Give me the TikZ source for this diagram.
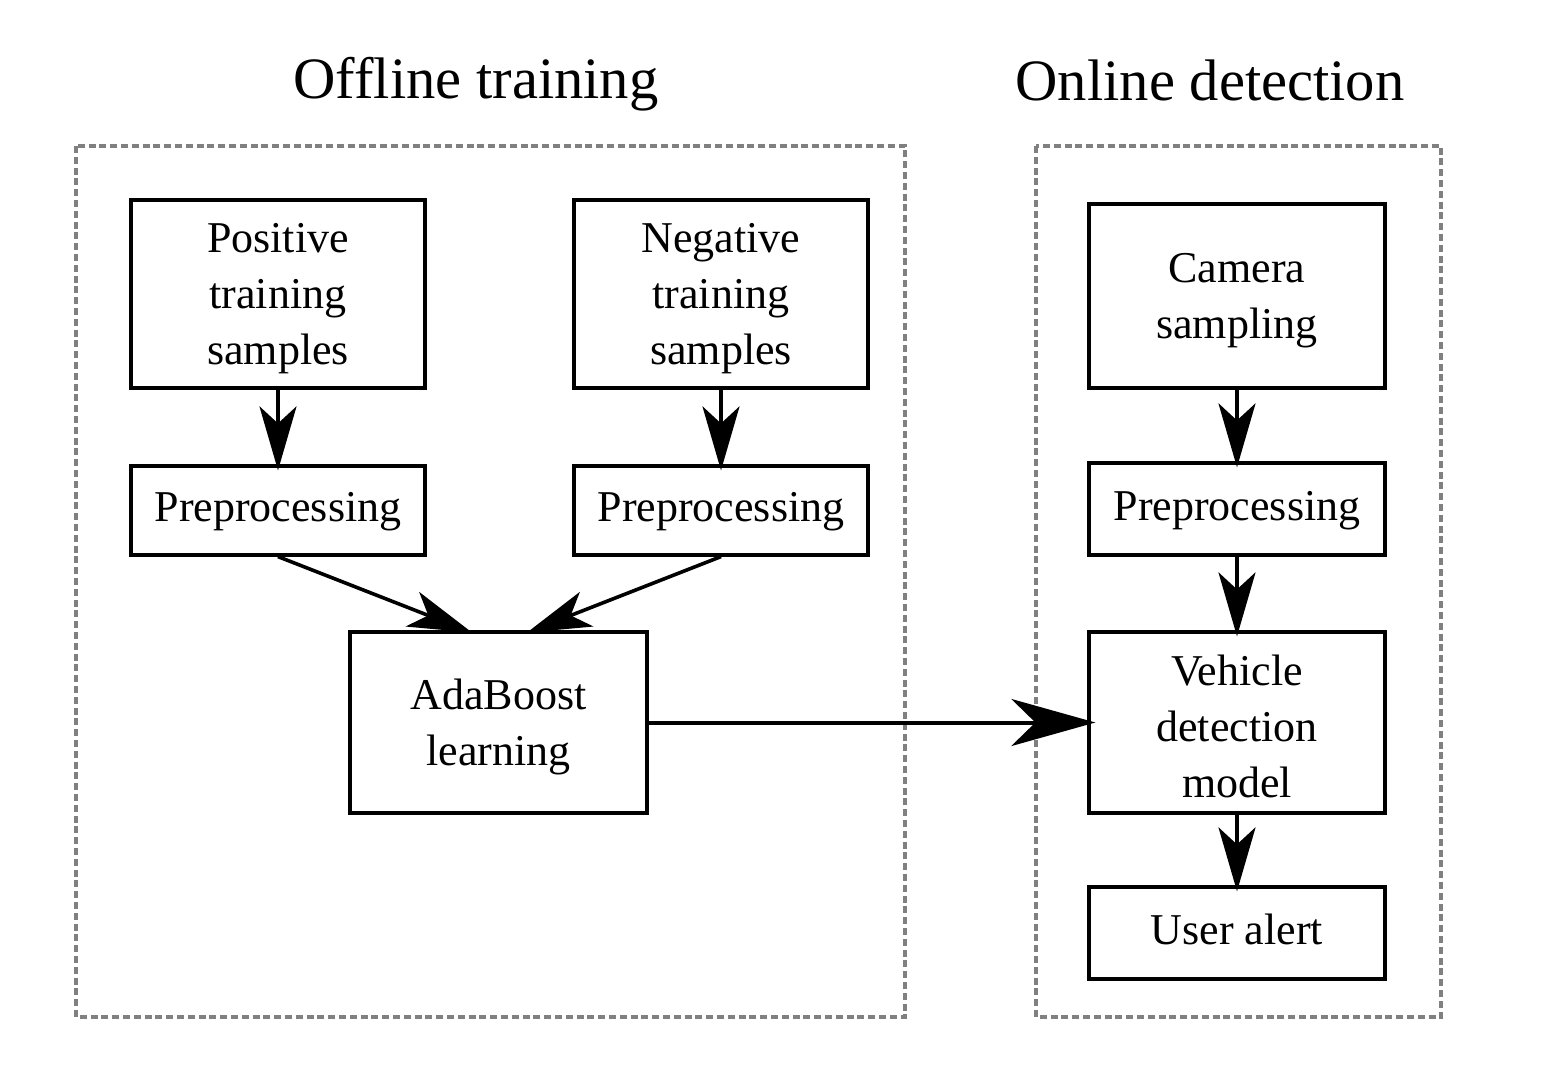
\documentclass[tikz,border=0pt]{standalone}
\usepackage{fontspec}
\setmainfont{Liberation Serif}
\usetikzlibrary{arrows.meta,calc}
\begin{document}
\begin{tikzpicture}[x=0.5pt,y=-0.5pt,
  box/.style={draw=black,line width=1.6pt,inner sep=0pt,align=center,
    font=\fontsize{22}{28}\selectfont},
  title/.style={inner sep=0pt,font=\fontsize{29.3}{34}\selectfont},
  dashbox/.style={draw=black!50,line width=1.6pt,dash pattern=on 3.5pt off 1.9pt},
  arr/.style={line width=1.8pt,shorten >=-3pt,-{Stealth[length=32pt,width=18.5pt,inset=8.5pt]}},
  bigarr/.style={line width=2pt,-{Stealth[length=42pt,width=23.5pt,inset=12pt]}}
]
\useasboundingbox (0,0) rectangle (1544,1082);
\draw[dashbox] (76,146) rectangle (905,1017);
\draw[dashbox] (1036,146) rectangle (1441,1017);
\node[title] (t1) at (476,84) {Offline training};
\node[title] (t2) at (1210,80) {Online detection};

\node[box,minimum width=147pt,minimum height=94pt] (pos) at (278,294) {\strut Positive\\training\\samples};
\node[box,minimum width=147pt,minimum height=94pt] (neg) at (721,294) {\strut Negative\\training\\samples};
\node[box,minimum width=147pt,minimum height=44.5pt] (pre1) at (278,510.5) {\strut Preprocessing};
\node[box,minimum width=147pt,minimum height=44.5pt] (pre2) at (721,510.5) {\strut Preprocessing};
\node[box,minimum width=148.5pt,minimum height=90.5pt] (ada) at (498.5,722.5) {\strut AdaBoost\\learning};

\node[box,minimum width=148pt,minimum height=92pt] (cam) at (1237,296) {\strut Camera\\sampling};
\node[box,minimum width=148pt,minimum height=46pt] (pre3) at (1237,509) {\strut Preprocessing};
\node[box,minimum width=148pt,minimum height=90.5pt] (veh) at (1237,722.5) {\strut Vehicle\\detection\\model};
\node[box,minimum width=148pt,minimum height=46pt] (usr) at (1237,933) {\strut User alert};

\draw[arr] (pos.south) -- (pre1.north);
\draw[arr] (neg.south) -- (pre2.north);
\draw[arr] (pre1.south) -- ([xshift=-16pt]ada.north);
\draw[arr] (pre2.south) -- ([xshift=17pt]ada.north);
\draw[bigarr] (ada.east) -- ([xshift=4pt]veh.west);
\draw[arr] (cam.south) -- (pre3.north);
\draw[arr] (pre3.south) -- (veh.north);
\draw[arr] (veh.south) -- (usr.north);
\end{tikzpicture}
\end{document}
